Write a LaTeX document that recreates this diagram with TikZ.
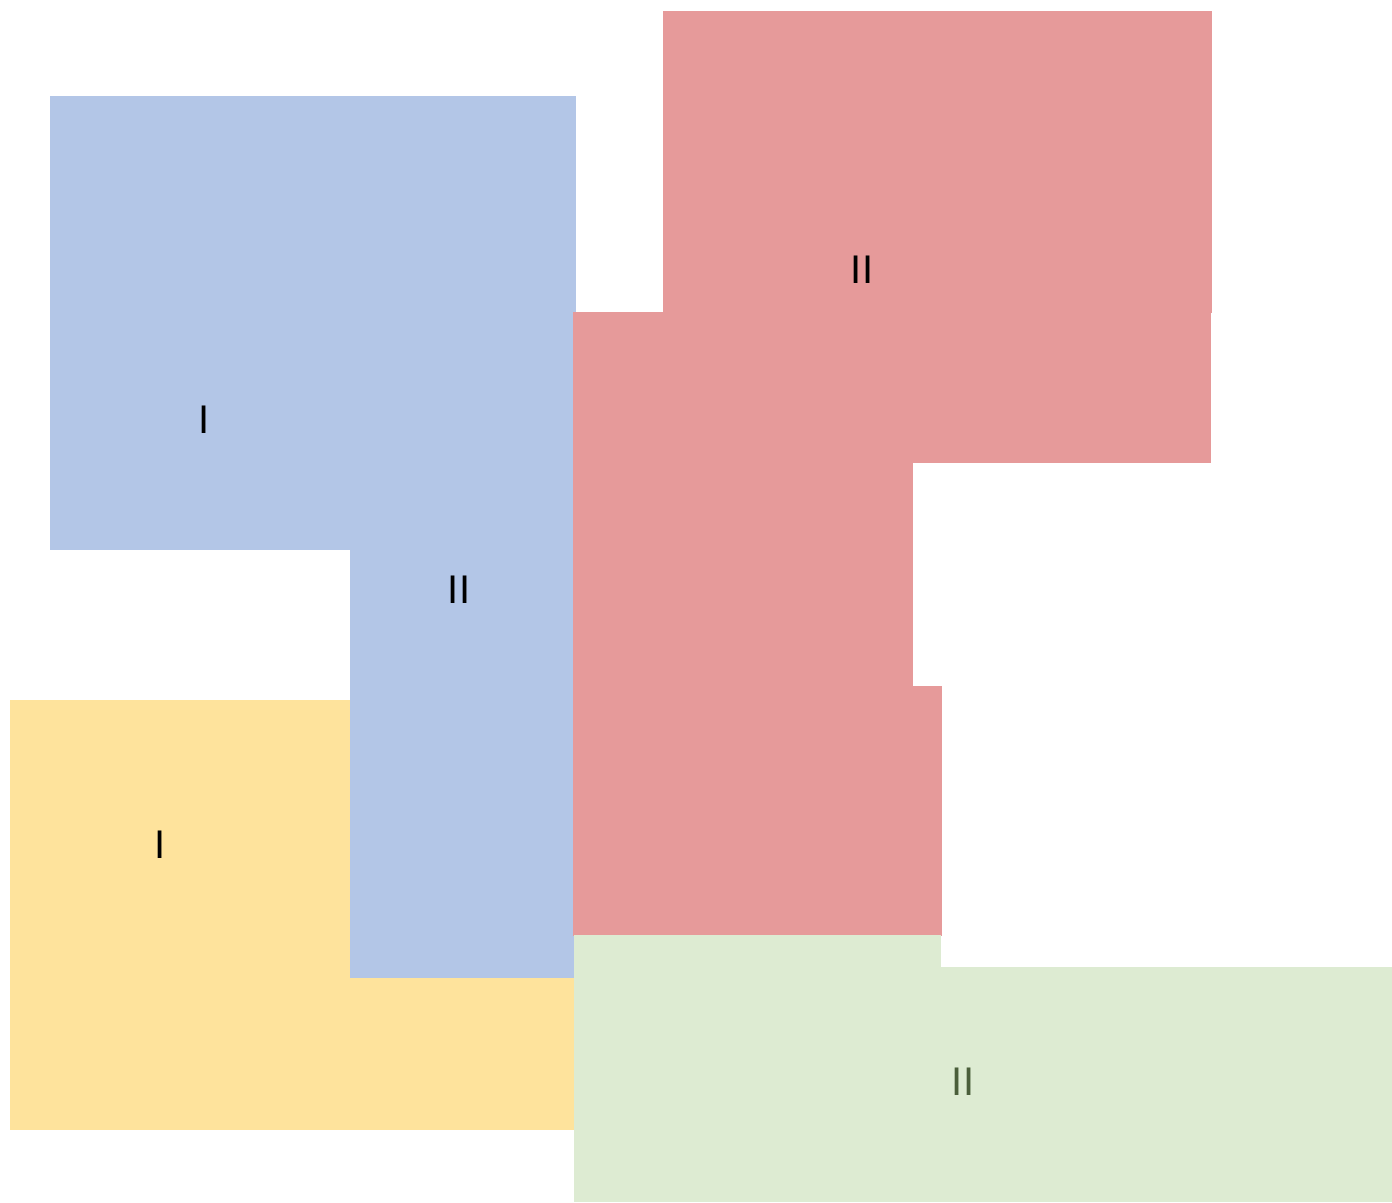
\documentclass[tikz,border=0pt]{standalone}
\usepackage{fontspec}
\setmainfont{Liberation Sans}
\definecolor{zblue}{HTML}{B3C6E7}
\definecolor{zred}{HTML}{E69A9A}
\definecolor{zyellow}{HTML}{FEE39C}
\definecolor{zgreen}{HTML}{DDEBD2}
\definecolor{zgreentext}{HTML}{4A5E3A}
\begin{document}
\begin{tikzpicture}[x=1pt, y=-1pt, every node/.style={font=\fontsize{40}{48}\selectfont}, lbl/.style={inner sep=0pt, anchor=center}]
	\useasboundingbox (0,0) rectangle (1392,1202);
	\fill[white] (0,0) rectangle (1392,1202);
	% yellow and blue zones
	\fill[zyellow] (10,700) rectangle (574,1130);
	\foreach \a/\b in {{50,96}/{350,550}, {350,96}/{576,978}} {\fill[zblue] (\a) rectangle (\b);}
	% red zones
	\foreach \a/\b in {{663,11}/{1212,313}, {573,312}/{1211,463}, {573,461}/{913,687}, {573,686}/{942,936}} {\fill[zred] (\a) rectangle (\b);}
	% green zones
	\foreach \a/\b in {{574,935}/{941,968}, {574,967}/{1392,1202}} {\fill[zgreen] (\a) rectangle (\b);}
	% labels
	\node[lbl] (blueI) at (204,420) {I};
	\node[lbl] (blueII) at (459,590) {II};
	\node[lbl] (redII) at (862,270) {II};
	\node[lbl] (yellowI) at (160,845) {I};
	\node[lbl, text=zgreentext] (greenII) at (963,1082) {II};
\end{tikzpicture}
\end{document}
